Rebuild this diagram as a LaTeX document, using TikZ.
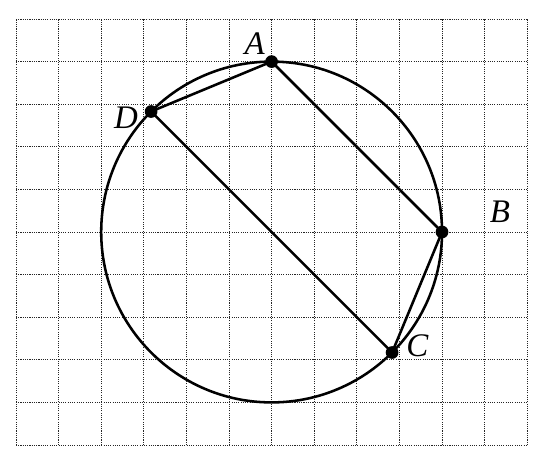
\documentclass[tikz,border=0pt]{standalone}
\usepackage{fontspec}
\setmainfont{Liberation Serif}
\usetikzlibrary{calc}
\begin{document}
\begin{tikzpicture}[
  gridline/.style={black!85, line width=0.55pt, dash pattern=on 0.7pt off 0.8pt},
  figline/.style={black, line width=1.7pt},
  pt/.style={circle, fill=black, inner sep=0pt, minimum size=8.5pt},
  lbl/.style={font=\fontsize{22}{26}\selectfont\itshape}
]
\useasboundingbox (-0.3756,-0.352) rectangle (12.582,10.446);
\draw[gridline] (0,0) grid (12,10);
\coordinate (O) at (6,5);
\draw[figline] (O) circle (4);
\node[pt] (A) at (6,9) {};
\node[pt] (B) at (10,5) {};
\node[pt] (C) at ($(O)+(-45:4)$) {};
\node[pt] (D) at ($(O)+(135:4)$) {};
\draw[figline, line join=round] (A.center) -- (B.center) -- (C.center) -- (D.center) -- cycle;
\node[lbl] (lA) at (5.6,9.42) {A};
\node[lbl] (lB) at (11.36,5.48) {B};
\node[lbl] (lC) at (9.42,2.32) {C};
\node[lbl] (lD) at (2.58,7.68) {D};
\end{tikzpicture}
\end{document}
